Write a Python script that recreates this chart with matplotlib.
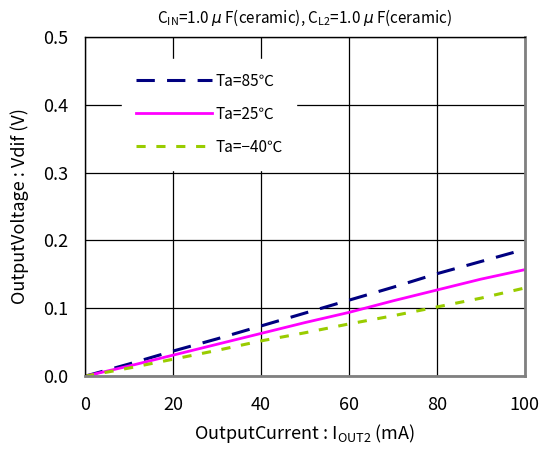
import matplotlib
matplotlib.use("Agg")
import matplotlib.pyplot as plt

plt.rcParams['font.family'] = ['Noto Sans CJK JP', 'DejaVu Sans']
plt.rcParams['mathtext.fontset'] = 'custom'
plt.rcParams['mathtext.rm'] = 'Noto Sans CJK JP'

current = [0, 10, 20, 30, 40, 50, 60, 70, 80, 90, 100]
v_85 = [0.0, 0.018, 0.037, 0.055, 0.074, 0.093, 0.112, 0.131, 0.151, 0.169, 0.187]
v_25 = [0.0, 0.015, 0.031, 0.047, 0.063, 0.079, 0.094, 0.111, 0.127, 0.143, 0.157]
v_m40 = [0.0, 0.012, 0.025, 0.038, 0.052, 0.064, 0.077, 0.089, 0.102, 0.115, 0.130]

fig = plt.figure(figsize=(5.45, 4.5), dpi=100)
ax = fig.add_axes([0.156, 0.164, 0.807, 0.754])

ax.plot(current, v_85, color='#000080', lw=2.2, dashes=(6, 4), label='Ta=85℃')
ax.plot(current, v_25, color='#ff00ff', lw=2.0, label='Ta=25℃')
ax.plot(current, v_m40, color='#99cc00', lw=2.2, dashes=(3, 3.5), label='Ta=\u221240℃')

ax.set_xlim(0, 100)
ax.set_ylim(0, 0.5)
ax.set_xticks([0, 20, 40, 60, 80, 100])
ax.set_yticks([0.0, 0.1, 0.2, 0.3, 0.4, 0.5])
ax.set_yticklabels(['0.0', '0.1', '0.2', '0.3', '0.4', '0.5'])
ax.grid(True, color='black', lw=0.9)
ax.tick_params(length=0, labelsize=13)
ax.tick_params(axis='x', pad=14)
ax.tick_params(axis='y', pad=12)

for s in ['top', 'left']:
    ax.spines[s].set_color('black')
    ax.spines[s].set_linewidth(1.0)
for s in ['right', 'bottom']:
    ax.spines[s].set_color('#808080')
    ax.spines[s].set_linewidth(2.0)

ax.set_xlabel(r'OutputCurrent : I$_{\mathregular{OUT2}}$ (mA)', fontsize=13, labelpad=6)
ax.set_ylabel('OutputVoltage : Vdif (V)', fontsize=13, labelpad=10)
ax.set_title(r'C$_{\mathregular{IN}}$=1.0 $\mu$ F(ceramic), C$_{\mathregular{L2}}$=1.0 $\mu$ F(ceramic)',
             fontsize=11, pad=10)

leg = ax.legend(loc='upper left', bbox_to_anchor=(0.084, 0.935), frameon=True, fancybox=False,
                framealpha=1, edgecolor='white', fontsize=11, handlelength=5.0,
                handletextpad=0.2, labelspacing=1.05, borderpad=0.9, borderaxespad=0)

fig.savefig('out.png', dpi=100)
